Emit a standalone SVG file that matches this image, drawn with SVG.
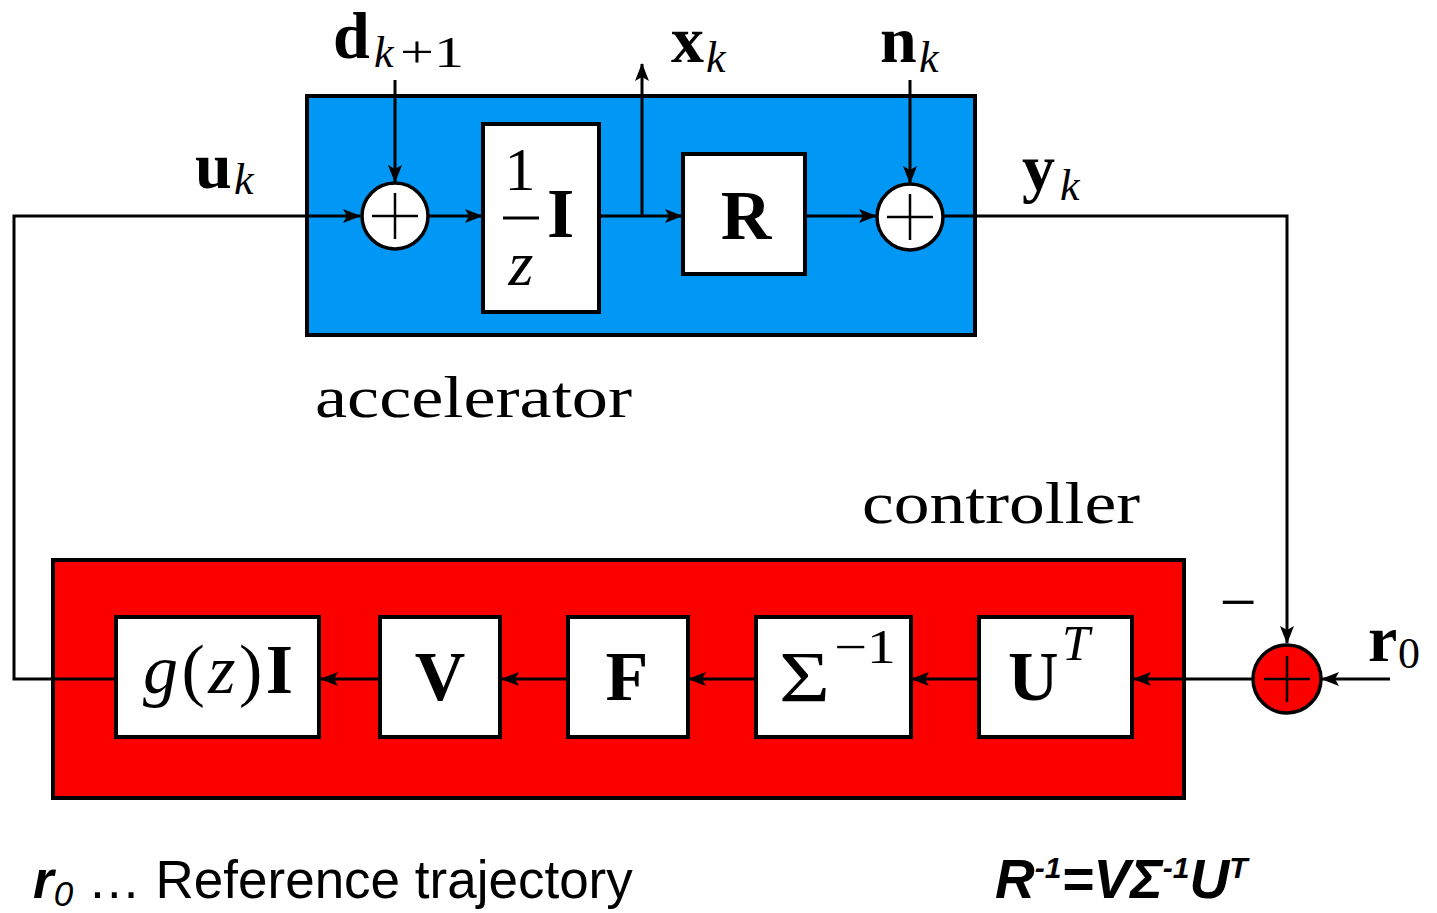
<svg xmlns="http://www.w3.org/2000/svg" width="1437" height="913" viewBox="0 0 1437 913">
<style>
.wire{fill:none;stroke:#000;stroke-width:3}
.blk{fill:#fff;stroke:#000;stroke-width:4}
.sum{fill:#fff;stroke:#000;stroke-width:3.5}
.plus{stroke:#000;stroke-width:2.5}
.m{font-family:"Liberation Serif","Times New Roman",serif;fill:#000}
.b{font-weight:bold}
.i{font-style:italic}
.sub{font-family:"Liberation Serif","Times New Roman",serif;font-style:italic;font-size:44px}
.big{font-size:70px}
.lab{font-size:66px}
.s{font-family:"Liberation Sans",Arial,sans-serif;fill:#000}
</style>
<defs>
<marker id="ah" markerWidth="20" markerHeight="14" refX="17" refY="7" orient="auto" markerUnits="userSpaceOnUse">
<path d="M0,0 L18,7 L0,14 L4,7 Z" fill="#000"/>
</marker>
</defs>
<rect width="1437" height="913" fill="#fff"/>

<g id="accelerator">
<rect x="307" y="96" width="668" height="239" fill="#0098f4" stroke="#000" stroke-width="4"/>
<text class="m" x="315" y="417" font-size="60" textLength="317" lengthAdjust="spacingAndGlyphs">accelerator</text>
</g>

<g id="controller">
<rect x="53" y="560" width="1131" height="238" fill="#fc0000" stroke="#000" stroke-width="4"/>
<text class="m" x="862" y="523" font-size="60" textLength="278" lengthAdjust="spacingAndGlyphs">controller</text>
</g>

<g id="connectors">
<path class="wire" d="M115,679 H14 V216 H360" marker-end="url(#ah)"/>
<path class="wire" d="M428,216 H482" marker-end="url(#ah)"/>
<path class="wire" d="M599,216 H682" marker-end="url(#ah)"/>
<path class="wire" d="M642,216 V64" marker-end="url(#ah)"/>
<path class="wire" d="M805,216 H876" marker-end="url(#ah)"/>
<path class="wire" d="M943,216 H1287 V643" marker-end="url(#ah)"/>
<path class="wire" d="M395,80 V182" marker-end="url(#ah)"/>
<path class="wire" d="M910,80 V183" marker-end="url(#ah)"/>
<path class="wire" d="M1390,679 H1322" marker-end="url(#ah)"/>
<path class="wire" d="M1252,679 H1134" marker-end="url(#ah)"/>
<path class="wire" d="M979,679 H912" marker-end="url(#ah)"/>
<path class="wire" d="M756,679 H689" marker-end="url(#ah)"/>
<path class="wire" d="M567,679 H502" marker-end="url(#ah)"/>
<path class="wire" d="M379,679 H321" marker-end="url(#ah)"/>
</g>

<g id="sum1">
<circle class="sum" cx="395" cy="216" r="33"/>
<line class="plus" x1="372" y1="216" x2="418" y2="216"/>
<line class="plus" x1="395" y1="193" x2="395" y2="239"/>
</g>

<g id="delay">
<rect class="blk" x="483" y="124" width="116" height="188"/>
<text class="m" x="520" y="190" font-size="62" text-anchor="middle">1</text>
<line x1="503" y1="218" x2="539" y2="218" stroke="#000" stroke-width="3"/>
<text class="m i" x="521" y="285" font-size="64" text-anchor="middle">z</text>
<text class="m b big" x="547" y="237">I</text>
</g>

<g id="Rblock">
<rect class="blk" x="683" y="154" width="122" height="120"/>
<text class="m b big" x="746" y="239" text-anchor="middle">R</text>
</g>

<g id="sum2">
<circle class="sum" cx="910" cy="217" r="33"/>
<line class="plus" x1="887" y1="217" x2="933" y2="217"/>
<line class="plus" x1="910" y1="194" x2="910" y2="240"/>
</g>

<g id="gblock">
<rect class="blk" x="116" y="617" width="203" height="120"/>
<text class="m big" x="218" y="693" text-anchor="middle" textLength="150" lengthAdjust="spacing"><tspan class="i">g</tspan>(<tspan class="i">z</tspan>)<tspan class="b">I</tspan></text>
</g>

<g id="Vblock">
<rect class="blk" x="380" y="617" width="120" height="120"/>
<text class="m b big" x="440" y="700" text-anchor="middle">V</text>
</g>

<g id="Fblock">
<rect class="blk" x="568" y="617" width="120" height="120"/>
<text class="m b big" x="627" y="700" text-anchor="middle">F</text>
</g>

<g id="Sigmablock">
<rect class="blk" x="756" y="617" width="155" height="120"/>
<text class="m" x="779" y="701" font-size="72" textLength="51" lengthAdjust="spacingAndGlyphs">Σ</text>
<text class="m" x="834" y="663" font-size="48" textLength="62" lengthAdjust="spacingAndGlyphs">−1</text>
</g>

<g id="UTblock">
<rect class="blk" x="979" y="617" width="153" height="120"/>
<text class="m b big" x="1008" y="700">U</text>
<text class="m i" x="1062" y="660" font-size="50">T</text>
</g>

<g id="sum3">
<circle cx="1287" cy="679" r="34" fill="#fc0000" stroke="#000" stroke-width="3.5"/>
<line class="plus" x1="1264" y1="679" x2="1310" y2="679"/>
<line class="plus" x1="1287" y1="656" x2="1287" y2="702"/>
</g>

<g id="labels">
<text class="m b lab" x="195" y="188">u</text><text class="sub" x="234" y="194">k</text>
<text class="m b lab" x="333" y="58">d</text><text class="sub" x="374" y="67">k</text><text class="m" x="400" y="67" font-size="44" textLength="64" lengthAdjust="spacingAndGlyphs">+1</text>
<text class="m b lab" x="671" y="62">x</text><text class="sub" x="706" y="72">k</text>
<text class="m b lab" x="880" y="62">n</text><text class="sub" x="919" y="72">k</text>
<text class="m b lab" x="1022" y="190">y</text><text class="sub" x="1060" y="200">k</text>
<text class="m b lab" x="1368" y="661">r</text><text class="m" x="1398" y="668" font-size="44">0</text>
<text class="m" x="1238" y="624" font-size="66" text-anchor="middle">−</text>
</g>

<g id="legend">
<text class="s" x="33" y="898" font-size="53"><tspan font-weight="bold" font-style="italic">r</tspan><tspan font-style="italic" font-size="35" dy="8">0</tspan><tspan dy="-8"> … Reference trajectory</tspan></text>
<text class="s" x="995" y="898" font-size="55" font-weight="bold" font-style="italic">R<tspan font-size="30" dy="-20">-1</tspan><tspan dy="20">=VΣ</tspan><tspan font-size="30" dy="-20">-1</tspan><tspan dy="20">U</tspan><tspan font-size="30" dy="-20">T</tspan></text>
</g>
</svg>
